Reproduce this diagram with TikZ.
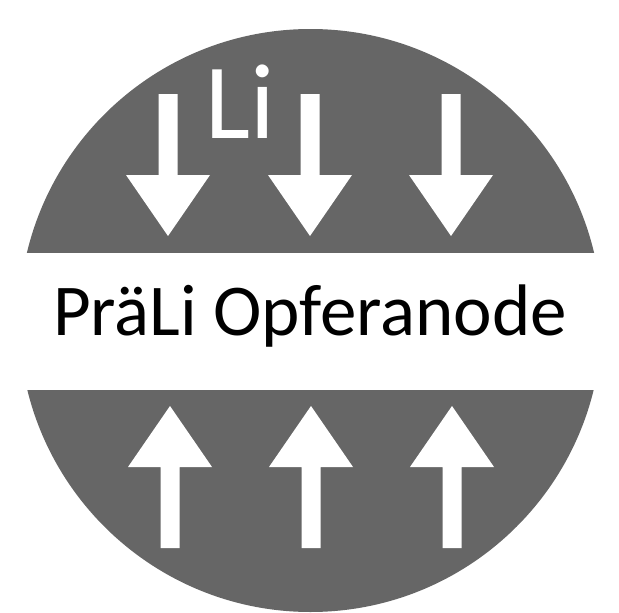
\documentclass[tikz,border=0pt]{standalone}
\usepackage{fontspec}
\setmainfont{Carlito}
\usetikzlibrary{positioning}
\definecolor{anodegray}{RGB}{102,102,102}
\tikzstyle{label} = [inner sep=0pt, anchor=base]
\tikzstyle{arrowbody} = [fill=white]

\begin{document}
\begin{tikzpicture}[x=1pt, y=-1pt]
    \useasboundingbox (0,0) rectangle (619,613);
    % disc and white band
    \fill[anodegray] (310.5,320.5) circle (291.5);
    \fill[white] (0,253) rectangle (619,390);
    % arrows towards the band
    \foreach \ax in {168,310,451}
        \fill[arrowbody] (\ax-9.5,94) -- (\ax+9.5,94) -- (\ax+9.5,175) -- (\ax+42,175)
            -- (\ax,236) -- (\ax-42,175) -- (\ax-9.5,175) -- cycle;
    \foreach \ax in {170,311,452}
        \fill[arrowbody] (\ax-9.5,548) -- (\ax+9.5,548) -- (\ax+9.5,467) -- (\ax+42,467)
            -- (\ax,406) -- (\ax-42,467) -- (\ax-9.5,467) -- cycle;
    % texts
    \node[label, font=\fontsize{73}{86}\selectfont] (anode) at (310,335) {PräLi Opferanode};
    \node[label, text=white, font=\fontsize{107}{120}\selectfont] (li) at (240.5,138) {Li};
\end{tikzpicture}
\end{document}
